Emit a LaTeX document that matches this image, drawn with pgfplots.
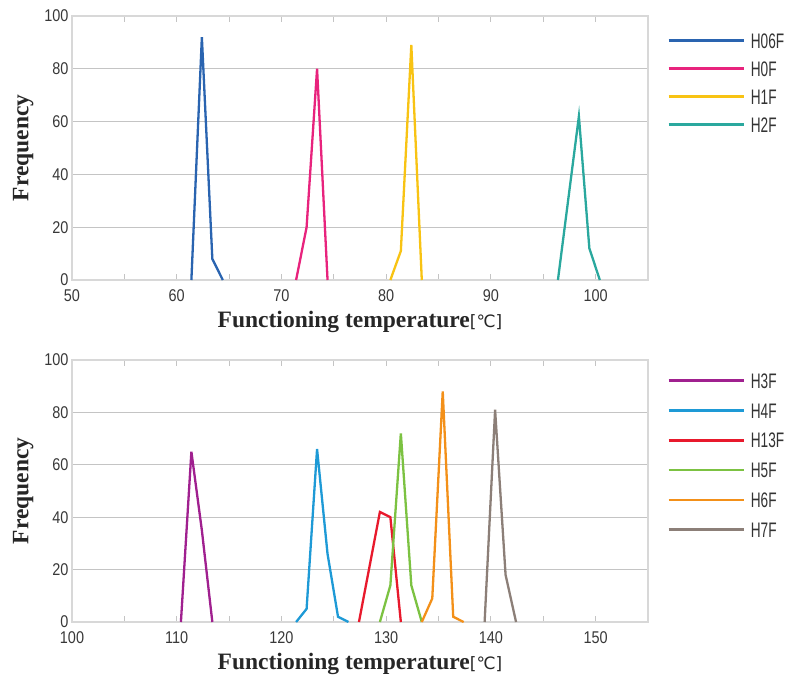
\documentclass[border=0pt]{standalone}
\usepackage{fontspec}
\setmainfont{Liberation Serif}
\newfontfamily\tickfont[FakeStretch=0.85]{Liberation Sans}
\newfontfamily\legfont[FakeStretch=0.65]{Liberation Sans}
\newfontfamily\symfont{DejaVu Sans}
\usepackage{pgfplots}
\pgfplotsset{compat=1.18}

\definecolor{cH06F}{HTML}{2A64B0}
\definecolor{cH0F}{HTML}{E8237D}
\definecolor{cH1F}{HTML}{F8C313}
\definecolor{cH2F}{HTML}{2AA89E}
\definecolor{cH3F}{HTML}{A0208F}
\definecolor{cH4F}{HTML}{1E9AD6}
\definecolor{cH13F}{HTML}{E8192C}
\definecolor{cH5F}{HTML}{7CC242}
\definecolor{cH6F}{HTML}{F39019}
\definecolor{cH7F}{HTML}{8C7F78}
\definecolor{gridc}{HTML}{C4C4C4}
\definecolor{framec}{HTML}{D8D8D8}
\definecolor{tickc}{HTML}{383838}

\pgfplotsset{
  panel/.style={
    scale only axis, width=576pt, height=264pt,
    ymin=0, ymax=100, ytick={0,20,...,100},
    ymajorgrids, grid style={gridc, line width=1.2pt},
    axis line style={framec, line width=1.4pt},
    tick align=inside, major tick length=6pt, minor tick length=6pt,
    xtick style={gridc, line width=1pt}, ytick style={draw=none},
    /pgf/number format/assume math mode=true,
    tick label style={font=\tickfont\fontsize{17}{17}\selectfont, text=tickc},
    xticklabel style={yshift=-6pt},
    xlabel={Functioning temperature{\mdseries\symfont\fontsize{17}{17}\selectfont[℃]}},
    ylabel={Frequency},
    label style={font=\bfseries\fontsize{23.5}{23.5}\selectfont, text=black!85},
    xlabel style={yshift=-3pt},
    ylabel style={yshift=4pt},
    every axis plot/.append style={line width=2.3pt, mark=none},
    legend cell align=left,
    legend image code/.code={\draw[##1, line width=2.6pt] (0pt,0pt) -- (75pt,0pt);},
    legend style={draw=none, fill=none, inner sep=0pt, anchor=north west,
      font=\legfont\fontsize{21}{21}\selectfont, text=black!80,
      nodes={inner sep=3pt, text height=15pt, text depth=0pt}, row sep=7pt,
      /tikz/every odd column/.append style={column sep=3pt}},
  },
}

\begin{document}
\begin{tikzpicture}
\path[use as bounding box] (0pt,0pt) rectangle (792pt,-676pt);

\begin{axis}[panel,
  at={(72pt,-280pt)}, anchor=south west,
  xmin=50, xmax=105, xtick={50,60,...,100}, minor xtick={55,65,...,105},
  legend style={at={(1,1)}, xshift=19pt, yshift=-14pt},
]
\addplot[cH06F] coordinates {(61.4,0) (62.4,92) (63.4,8) (64.4,0)};
\addlegendentry{H06F}
\addplot[cH0F] coordinates {(71.4,0) (72.4,20) (73.4,80) (74.4,0)};
\addlegendentry{H0F}
\addplot[cH1F] coordinates {(80.4,0) (81.4,11) (82.4,89) (83.4,0)};
\addlegendentry{H1F}
\addplot[cH2F] coordinates {(96.4,0) (97.4,31) (98.4,62) (99.4,12) (100.4,0)};
\addlegendentry{H2F}
\end{axis}

\begin{axis}[panel, height=262pt,
  at={(72pt,-622pt)}, anchor=south west,
  xmin=100, xmax=155, xtick={100,110,...,150}, minor xtick={105,115,...,155},
  legend style={at={(1,1)}, xshift=19pt, yshift=-10pt, row sep=8.8pt},
]
\addplot[cH3F] coordinates {(110.4,0) (111.4,65) (112.4,35) (113.4,0)};
\addlegendentry{H3F}
\addplot[cH4F] coordinates {(121.4,0) (122.4,5) (123.4,66) (124.4,26) (125.4,2) (126.4,0)};
\addlegendentry{H4F}
\addplot[cH13F] coordinates {(127.4,0) (128.4,21) (129.4,42) (130.4,40) (131.4,0)};
\addlegendentry{H13F}
\addplot[cH5F] coordinates {(129.4,0) (130.4,14) (131.4,72) (132.4,14) (133.4,0)};
\addlegendentry{H5F}
\addplot[cH6F] coordinates {(133.4,0) (134.4,9) (135.4,88) (136.4,2) (137.4,0)};
\addlegendentry{H6F}
\addplot[cH7F] coordinates {(139.4,0) (140.4,81) (141.4,18) (142.4,0)};
\addlegendentry{H7F}
\end{axis}
\end{tikzpicture}
\end{document}
